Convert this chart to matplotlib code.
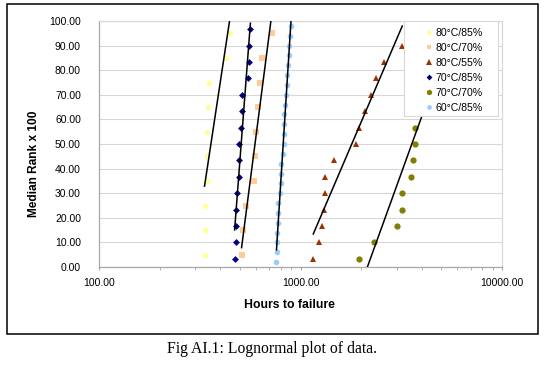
import numpy as np
import matplotlib
matplotlib.use("Agg")
import matplotlib.pyplot as plt
from matplotlib.patches import Rectangle
from matplotlib.ticker import FixedLocator, FormatStrFormatter, LogLocator, NullFormatter

plt.rcParams['font.family'] = ['Liberation Sans', 'DejaVu Sans']

# ---------------- data ----------------
series_labels = ["80°C/85%", "80°C/70%", "80°C/55%", "70°C/85%", "70°C/70%", "60°C/85%"]

rank10 = [5, 15, 25, 35, 45, 55, 65, 75, 85, 95]
rank15 = [3.33, 10, 16.67, 23.33, 30, 36.67, 43.33, 50, 56.67, 63.33, 70, 76.67, 83.33, 90, 96.67]
rank14 = [3.33, 10, 16.67, 23.33, 30, 36.67, 43.33, 50, 56.67, 63.33, 70, 76.67, 83.33, 90]
rank25 = [2, 6, 10, 14, 18, 22, 26, 30, 34, 38, 42, 46, 50, 54, 58, 62, 66, 70, 74, 78,
          82, 86, 90, 94, 98]

hours_80_85 = [334, 334, 334, 344, 345, 345, 349, 353, 428, 445]
hours_80_70 = [510, 519, 539, 590, 597, 604, 616, 632, 645, 723]
hours_80_55 = [1157, 1229, 1282, 1306, 1327, 1327, 1471, 1878, 1950, 2089, 2230, 2370, 2609, 3199]
hours_70_85 = [471, 479, 480, 480, 484, 493, 495, 495, 507, 510, 513, 547, 553, 557, 564]
hours_70_70 = [1950, 2317, 3003, 3180, 3180, 3539, 3637, 3691, 3691, 3758, 3890, 4074, 4365, 4898, 6310]
hours_60_85 = [760, 768, 768, 768, 775, 775, 775, 795, 800, 802, 802, 817, 826, 832, 832, 832,
               839, 845, 858, 861, 871, 872, 874, 892, 902]

series_hours = [hours_80_85, hours_80_70, hours_80_55, hours_70_85, hours_70_70, hours_60_85]
series_ranks = [rank10, rank10, rank14, rank15, rank15, rank25]

colors = ["#FFFF99", "#FFCC99", "#993300", "#000080", "#808000", "#99CCFF"]
markers = ["o", "s", "^", "D", "o", "o"]
msizes = [4, 4, 5, 3.5, 4.5, 4]

x_ticks = [100, 1000, 10000]
y_ticks = [0, 10, 20, 30, 40, 50, 60, 70, 80, 90, 100]

# ---------------- figure ----------------
W, H = 554, 365
fig = plt.figure(figsize=(W / 100, H / 100), dpi=100)
fig.patch.set_facecolor("white")

ax = fig.add_axes([99 / W, (H - 267) / H, 403 / W, 246 / H])
ax.set_xscale("log")
ax.set_xlim(100, 10000)
ax.set_ylim(0, 100)

handles = []
for h, r, c, m, ms, lab in zip(series_hours, series_ranks, colors, markers, msizes, series_labels):
    h = np.asarray(h, float)
    r = np.asarray(r, float)
    ln, = ax.plot(h, r, linestyle="none", marker=m, markersize=ms, color=c,
                  markeredgewidth=0, label=lab, zorder=3)
    handles.append(ln)
    a, b = np.polyfit(np.log10(h), r, 1)
    xs = np.array([h.min(), h.max()])
    ax.plot(xs, a * np.log10(xs) + b, color="black", lw=1.1, zorder=4)

ax.yaxis.set_major_locator(FixedLocator(y_ticks))
ax.yaxis.set_major_formatter(FormatStrFormatter("%.2f"))
ax.xaxis.set_major_locator(FixedLocator(x_ticks))
ax.xaxis.set_major_formatter(FormatStrFormatter("%.2f"))
ax.xaxis.set_minor_locator(LogLocator(base=10, subs=np.arange(2, 10)))
ax.xaxis.set_minor_formatter(NullFormatter())

ax.grid(axis="y", color="#D8D8D8", lw=0.8, zorder=0)
ax.set_axisbelow(True)
for s in ax.spines.values():
    s.set_color("#A8A8A8")
    s.set_linewidth(0.9)
ax.spines["top"].set_color("#D8D8D8")
ax.spines["right"].set_color("#D8D8D8")

ax.tick_params(axis="y", length=0, pad=13, labelsize=7.5, colors="black")
ax.tick_params(axis="x", which="major", length=2.5, pad=5.5, labelsize=7.5,
               color="#A8A8A8", direction="out")
ax.tick_params(axis="x", which="minor", length=2.5, color="#A8A8A8", direction="out")

# legend box
ax.add_patch(Rectangle((0.7568, 0.6138), 0.2332, 0.3862, transform=ax.transAxes,
                       facecolor="white", edgecolor="#D8D8D8", lw=0.8, zorder=5))
leg = ax.legend(handles=handles, loc="upper left", bbox_to_anchor=(0.7545, 0.993),
                frameon=False, fontsize=7.6, borderpad=0, handlelength=4.0,
                handletextpad=-1.4, labelspacing=0.47, numpoints=1, markerscale=0.85)
leg.set_zorder(6)

fig.text(289 / W, 1 - 305 / H, "Hours to failure", fontsize=8.8, fontweight="bold",
         ha="center", va="center")
fig.text(34 / W, 1 - 163.5 / H, "Median Rank x 100", fontsize=8.6, fontweight="bold",
         rotation=90, ha="center", va="center")

fig.add_artist(Rectangle((7 / W, (H - 334) / H), (538 - 7) / W, (334 - 4) / H,
                         transform=fig.transFigure, fill=False, edgecolor="black", lw=1.1))

fig.text(272 / W, 1 - 349 / H, "Fig AI.1: Lognormal plot of data.",
         family=["Liberation Serif", "DejaVu Serif"], fontsize=11.3, ha="center", va="center")

fig.savefig("out.png", dpi=100, facecolor="white")
